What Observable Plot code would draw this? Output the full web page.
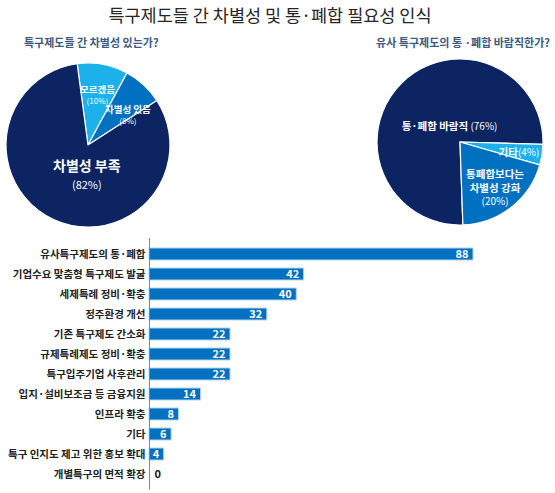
<!DOCTYPE html>
<html><head><meta charset="utf-8">
<script src="https://cdn.jsdelivr.net/npm/d3@7"></script>
<script src="https://cdn.jsdelivr.net/npm/@observablehq/plot@0.6"></script>
<style>
body{margin:0;background:#fff;font-family:"Noto Sans CJK KR","Noto Sans",sans-serif;}
#wrap{position:relative;width:555px;height:493px;overflow:hidden;background:#fff}
#pies{position:absolute;left:0;top:0}
#bars{position:absolute;left:0;top:230px}
#title{position:absolute;top:5px;left:0;width:540px;text-align:center;font-size:17.5px;line-height:20px;color:#262626}
.sub{position:absolute;top:35px;font-size:11px;line-height:14px;font-weight:bold;color:#3e5a7e;white-space:nowrap}
#sub1{left:24px}
#sub2{right:5px}
</style></head>
<body><div id="wrap">
<div id="pies"></div>
<div id="bars"></div>
<div id="title"></div>
<div class="sub" id="sub1"></div>
<div class="sub" id="sub2"></div>
</div>
<script>
// ---- data ----
const titleText = "특구제도들 간 차별성 및 통·폐합 필요성 인식";
const pie1Title = "특구제도들 간 차별성 있는가?";
const pie1Labels = ["모르겠음", "차별성 있음", "차별성 부족"];
const pie1Values = [10, 8, 82];
const pie2Title = "유사 특구제도의 통 ·폐합 바람직한가?";
const pie2Labels = ["통·폐합 바람직", "기타", "통폐합보다는\n차별성 강화"];
const pie2Values = [76, 4, 20];
const barCategories = ["유사특구제도의 통·폐합","기업수요 맞춤형 특구제도 발굴","세제특례 정비·확충","정주환경 개선","기존 특구제도 간소화","규제특례제도 정비·확충","특구입주기업 사후관리","입지·설비보조금 등 금융지원","인프라 확충","기타","특구 인지도 제고 위한 홍보 확대","개별특구의 면적 확장"];
const barValues = [88,42,40,32,22,22,22,14,8,6,4,0];

document.getElementById("title").textContent = titleText;
document.getElementById("sub1").textContent = pie1Title;
document.getElementById("sub2").textContent = pie2Title;

const NAVY = "#0c2461", MID = "#0070c0", LIGHT = "#1cb1ea";

function pieMark(labels, values, colors, cfg) {
  return () => {
    const g = d3.create("svg:g").attr("transform", `translate(${cfg.cx},${cfg.cy})`);
    const a0 = cfg.start * Math.PI / 180;
    const arcs = d3.pie().sort(null).value(d => d).startAngle(a0).endAngle(a0 + 2 * Math.PI)(values);
    const arc = d3.arc().innerRadius(0).outerRadius(cfg.r);
    g.selectAll("path").data(arcs).join("path")
      .attr("d", arc).attr("fill", (d, i) => colors[i])
      .attr("stroke", "#fff").attr("stroke-width", 1.2).attr("stroke-linejoin", "round");
    arcs.forEach((a, i) => {
      const [x, y] = arc.centroid(a);
      const [ox, oy] = cfg.offsets[i];
      const lines = labels[i].split("\n").map(s => [[s, "bold", cfg.nameSize[i]]]);
      const pct = `(${values[i]}%)`;
      if (cfg.inline[i]) lines[lines.length - 1].push([cfg.gap[i] + pct, "normal", cfg.pctSize[i]]);
      else lines.push([[pct, "normal", cfg.pctSize[i]]]);
      const n = lines.length, lh = cfg.lh[i];
      lines.forEach((ln, j) => {
        const t = g.append("text")
          .attr("x", x + ox).attr("y", y + oy + (j - (n - 1) / 2) * lh)
          .attr("text-anchor", "middle").attr("dominant-baseline", "central")
          .attr("fill", "#fff").attr("font-family", '"Noto Sans CJK KR", sans-serif');
        ln.forEach(([s, w, sz]) => t.append("tspan").attr("font-weight", w).attr("font-size", sz).text(s));
      });
    });
    return g.node();
  };
}

const pies = Plot.plot({
  width: 555, height: 230, margin: 0,
  marks: [
    pieMark(pie1Labels, pie1Values, [LIGHT, MID, NAVY], {
      cx: 88, cy: 145, r: 82, start: -7.6,
      offsets: [[2, -10], [12, 0], [16, -8]],
      inline: [false, false, false], gap: ["", "", ""],
      nameSize: [9.5, 9.5, 14], pctSize: [8, 8, 11], lh: [11, 11, 19]
    }),
    pieMark(pie2Labels, pie2Values, [NAVY, LIGHT, MID], {
      cx: 460, cy: 142, r: 83, start: 178,
      offsets: [[19, 12], [18, 2.4], [9.5, 12]],
      inline: [true, true, false], gap: [" ", "", ""],
      nameSize: [10.5, 10.5, 10.5], pctSize: [10, 10, 10], lh: [13.7, 13.7, 13.7]
    })
  ]
});
document.getElementById("pies").append(pies);

const rows = barCategories.map((c, i) => ({c, v: barValues[i]}));
const bars = Plot.plot({
  width: 555, height: 263,
  marginLeft: 149, marginRight: 82, marginTop: 8, marginBottom: 3.5,
  style: {fontFamily: '"Noto Sans CJK KR", sans-serif', fontSize: "10.5px", fontWeight: "bold", color: "#222", background: "transparent"},
  x: {domain: [0, 88], axis: null},
  y: {domain: barCategories, padding: 0.4, label: null, tickSize: 0, tickPadding: 4},
  marks: [
    Plot.barX(rows, {x: "v", y: "c", fill: MID, stroke: "#b4d3ee", strokeWidth: 1}),
    Plot.ruleX([0], {stroke: "#5b8fc9", strokeWidth: 1}),
    Plot.text(rows.filter(d => d.v > 0), {x: "v", y: "c", text: d => String(d.v), textAnchor: "end", dx: -5, fill: "#fff", fontWeight: "bold", fontSize: 11}),
    Plot.text(rows.filter(d => d.v === 0), {x: "v", y: "c", text: d => String(d.v), textAnchor: "start", dx: 5, fill: "#111", fontWeight: "bold", fontSize: 11})
  ]
});
document.getElementById("bars").append(bars);
</script>
</body></html>
